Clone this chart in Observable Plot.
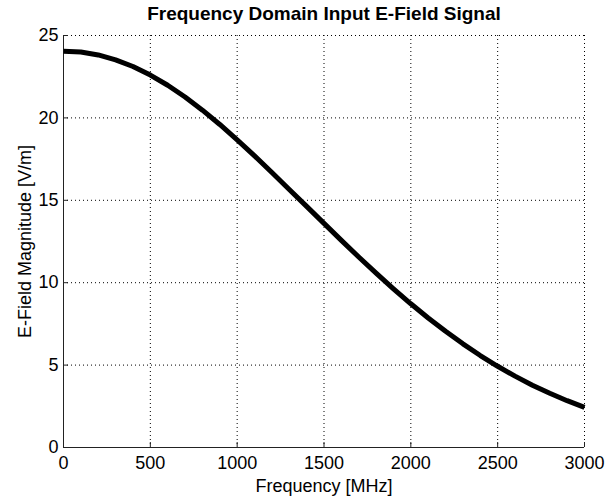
<!DOCTYPE html>
<html>
<head>
<meta charset="utf-8">
<script src="https://cdn.jsdelivr.net/npm/d3@7"></script>
<script src="https://cdn.jsdelivr.net/npm/@observablehq/plot@0.6"></script>
<style>
  html, body { margin: 0; padding: 0; background: #fff; }
  #chart { width: 607px; height: 500px; }
</style>
</head>
<body>
<div id="chart"></div>
<script>
// Frequency samples (MHz) and E-field magnitude (V/m)
const freq = [0,100,200,300,400,500,600,700,800,900,1000,1100,1200,1300,1400,1500,1600,1700,1800,1900,2000,2100,2200,2300,2400,2500,2600,2700,2800,2900,3000];
const efield = [24.05,24.0,23.82,23.52,23.12,22.6,21.98,21.27,20.47,19.6,18.67,17.7,16.69,15.66,14.63,13.6,12.57,11.56,10.58,9.63,8.72,7.86,7.05,6.29,5.58,4.93,4.33,3.78,3.29,2.84,2.43];
const xTicks = [0,500,1000,1500,2000,2500,3000];
const yTicks = [0,5,10,15,20,25];
const title = "Frequency Domain Input E-Field Signal";
const xLabel = "Frequency [MHz]";
const yLabel = "E-Field Magnitude [V/m]";

const data = freq.map((f, i) => ({f, e: efield[i]}));
const font = "'Liberation Sans', Arial, Helvetica, sans-serif";

const chart = Plot.plot({
  width: 607,
  height: 500,
  marginLeft: 63,
  marginRight: 23,
  marginTop: 35,
  marginBottom: 53,
  style: {fontFamily: font, fontSize: "18px", color: "#000", background: "#fff"},
  x: {domain: [0, 3000], ticks: xTicks},
  y: {domain: [0, 25], ticks: yTicks},
  marks: [
    Plot.gridX(xTicks, {stroke: "#000", strokeOpacity: 1, strokeWidth: 1, strokeDasharray: "1,3"}),
    Plot.gridY(yTicks, {stroke: "#000", strokeOpacity: 1, strokeWidth: 1, strokeDasharray: "1,3"}),
    // inward ticks
    Plot.axisX(xTicks, {tickSize: 5, dy: -5, tickFormat: () => "", label: null, stroke: "#222"}),
    Plot.axisY(yTicks, {tickSize: 5, dx: 5, tickFormat: () => "", label: null, stroke: "#222"}),
    // tick labels
    Plot.axisX(xTicks, {tickSize: 0, tickPadding: 9, fontSize: 18, label: null, fill: "#000", tickFormat: d => String(d)}),
    Plot.axisY(yTicks, {tickSize: 0, tickPadding: 5, fontSize: 18, label: null, fill: "#000", tickFormat: d => String(d)}),
    Plot.ruleY([0], {stroke: "#222", strokeWidth: 1}),
    Plot.ruleX([0], {stroke: "#222", strokeWidth: 1}),
    Plot.line(data, {x: "f", y: "e", stroke: "#000", strokeWidth: 5, strokeLinejoin: "round", strokeLinecap: "butt"}),
    Plot.text([title], {frameAnchor: "top", dy: -29, fontSize: 19, fontWeight: "bold", fill: "#000", text: d => d}),
    Plot.text([xLabel], {frameAnchor: "bottom", dy: 44, fontSize: 18, fill: "#000", text: d => d}),
    Plot.text([yLabel], {frameAnchor: "left", textAnchor: "middle", dx: -38, rotate: -90, fontSize: 18, fill: "#000", text: d => d})
  ]
});
document.getElementById("chart").appendChild(chart);
</script>
</body>
</html>
